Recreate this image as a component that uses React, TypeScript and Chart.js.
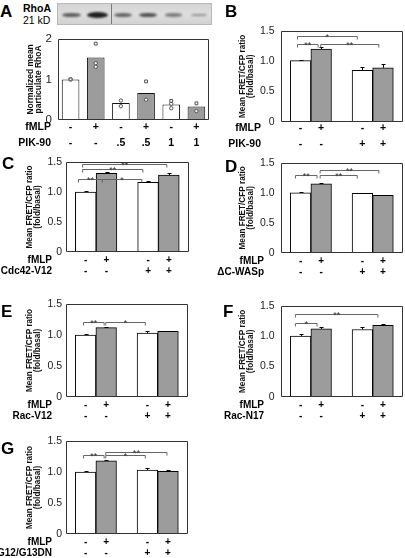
import React, { useEffect, useRef } from 'react';
import { Chart, registerables } from 'chart.js';

Chart.register(...registerables);

const FONT = "'Liberation Sans', Arial, Helvetica, sans-serif";
const GRAY = '#9c9c9c';

// ---------- Panel A data ----------
const aCategories = ['c1', 'c2', 'c3', 'c4', 'c5', 'c6'];
const aFmlp = ['-', '+', '-', '+', '-', '+'];
const aPik = ['-', '-', '.5', '.5', '1', '1'];
const aMeans = [1.0, 1.54, 0.42, 0.665, 0.38, 0.33];
const aSquares = [1.0, 1.88, null, 0.95, 0.47, 0.41];
const aCircles1 = [1.0, 1.4, 0.48, 0.5, 0.29, 0.22];
const aCircles2 = [null, 1.31, 0.34, null, 0.4, null];
const aBlotIntensity = [0.55, 1.0, 0.5, 0.65, 0.35, 0.2];
const aYMax = 2;

// ---------- Panels B-G data ----------
const xPositions = [1, 2, 4, 5];
const fmlpSigns = ['-', '+', '-', '+'];
const drugSigns = ['-', '-', '+', '+'];
const fretYMax = 1.5;

const bMeans = [1.01, 1.2, 0.85, 0.89];
const bErrors = [0.01, 0.04, 0.06, 0.06];
const bBrackets: [number, number, number, string][] = [
  [0.85, 3.75, 1.42, '*'],
  [0.85, 1.85, 1.29, '**'],
  [1.98, 4.8, 1.29, '**'],
];

const cMeans = [1.0, 1.31, 1.16, 1.28];
const cErrors = [0.02, 0.03, 0.02, 0.04];
const cBrackets: [number, number, number, string][] = [
  [0.85, 4.9, 1.47, '**'],
  [0.85, 3.75, 1.39, '**'],
  [0.65, 1.8, 1.21, '**'],
  [1.8, 3.7, 1.21, '*'],
];

const dMeans = [1.0, 1.15, 0.99, 0.96];
const dErrors = [0.01, 0.01, 0.01, 0.01];
const dBrackets: [number, number, number, string][] = [
  [0.75, 1.8, 1.29, '**'],
  [1.95, 3.75, 1.29, '**'],
  [1.95, 4.8, 1.38, '**'],
];

const eMeans = [1.0, 1.12, 1.03, 1.06];
const eErrors = [0.02, 0.015, 0.03, 0.01];
const eBrackets: [number, number, number, string][] = [
  [0.9, 1.9, 1.21, '**'],
  [1.98, 3.9, 1.21, '*'],
];

const fMeans = [1.0, 1.12, 1.11, 1.18];
const fErrors = [0.03, 0.03, 0.04, 0.02];
const fBrackets: [number, number, number, string][] = [
  [0.75, 1.8, 1.22, '*'],
  [0.75, 4.75, 1.365, '**'],
];

const gMeans = [1.0, 1.18, 1.03, 1.01];
const gErrors = [0.02, 0.015, 0.04, 0.02];
const gBrackets: [number, number, number, string][] = [
  [0.9, 1.9, 1.27, '**'],
  [1.98, 3.9, 1.27, '*'],
  [1.98, 4.95, 1.33, '**'],
];

const fretTitle = ['Mean FRET/CFP ratio', '(fold/basal)'];

// ---------- geometry ----------
interface Geo {
  canvasLeft: number;
  canvasRight: number;
  l: number;
  r: number;
  t: number;
  b: number;
  titleLines: string[];
  titleX: number[];
  titleSize: number;
  rowNames: string[];
  rowRight: number;
  rowLH: number;
  rowPad: number;
  rowFont: number;
  yTickPad: number;
  yTickFont: number;
}

const PAD_TOP = 10;
const X_H = 32;

function dims(g: Geo) {
  const x = g.canvasLeft;
  const y = g.t - PAD_TOP;
  const w = g.canvasRight - g.canvasLeft;
  const h = g.b - y + X_H;
  return { x, y, w, h };
}

function baseOptions(g: Geo, yMax: number, yStep: number, xScale: any) {
  const d = dims(g);
  const yW = g.l - g.canvasLeft;
  return {
    responsive: false,
    animation: false,
    devicePixelRatio: 1,
    layout: { padding: { top: PAD_TOP, right: d.w - (g.r - g.canvasLeft), bottom: 0, left: 0 } },
    plugins: {
      legend: { display: false },
      tooltip: { enabled: false },
      title: { display: false },
    },
    scales: {
      x: xScale,
      y: {
        type: 'linear',
        min: 0,
        max: yMax,
        ticks: {
          stepSize: yStep,
          font: { family: FONT, size: g.yTickFont, lineHeight: 1 },
          color: '#222',
          padding: g.yTickPad,
        },
        grid: { display: false, drawTicks: false, tickLength: 0 },
        border: { display: false },
        title: { display: false },
        afterFit: (s: any) => {
          s.width = yW;
        },
      },
    },
  };
}

function overlayPlugin(
  g: Geo,
  extra: { xs?: number[]; means?: number[]; errs?: number[]; brackets?: [number, number, number, string][] }
) {
  return {
    id: 'overlay' + g.t,
    afterDraw(chart: any) {
      const { ctx, chartArea: ca, scales } = chart;
      const xs = scales.x;
      const ys = scales.y;
      ctx.save();
      // frame
      ctx.strokeStyle = '#333';
      ctx.lineWidth = 1;
      const L = Math.round(ca.left) + 0.5;
      const R = Math.round(ca.right) - 0.5;
      const T = Math.round(ca.top) + 0.5;
      const B = Math.round(ca.bottom) - 0.5;
      ctx.beginPath();
      ctx.moveTo(L, T);
      ctx.lineTo(R, T);
      ctx.lineTo(R, B);
      ctx.lineTo(L, B);
      ctx.closePath();
      ctx.stroke();

      // error bars
      if (extra.xs && extra.means && extra.errs) {
        ctx.strokeStyle = '#000';
        for (let i = 0; i < extra.xs.length; i++) {
          const px = Math.round(xs.getPixelForValue(extra.xs[i])) + 0.5;
          const y0 = ys.getPixelForValue(extra.means[i]);
          const y1 = Math.round(ys.getPixelForValue(extra.means[i] + extra.errs[i])) + 0.5;
          ctx.beginPath();
          ctx.moveTo(px, y0);
          ctx.lineTo(px, y1);
          ctx.moveTo(px - 2, y1);
          ctx.lineTo(px + 2, y1);
          ctx.stroke();
        }
      }

      // significance brackets
      if (extra.brackets) {
        for (const [x1v, x2v, yv, label] of extra.brackets) {
          const x1 = xs.getPixelForValue(x1v);
          const x2 = xs.getPixelForValue(x2v);
          const y = Math.round(ys.getPixelForValue(yv)) + 0.5;
          ctx.strokeStyle = '#666';
          ctx.beginPath();
          ctx.moveTo(x1, y + 3);
          ctx.lineTo(x1, y);
          ctx.lineTo(x2, y);
          ctx.lineTo(x2, y + 3);
          ctx.stroke();
          ctx.fillStyle = '#333';
          ctx.font = `9px ${FONT}`;
          ctx.textAlign = 'center';
          ctx.textBaseline = 'alphabetic';
          ctx.fillText(label, (x1 + x2) / 2, y + 3);
        }
      }

      // y-axis title (rotated)
      ctx.fillStyle = '#111';
      ctx.font = `bold ${g.titleSize}px ${FONT}`;
      ctx.textAlign = 'center';
      ctx.textBaseline = 'middle';
      const cy = (ca.top + ca.bottom) / 2;
      g.titleLines.forEach((line, i) => {
        ctx.save();
        ctx.translate(g.titleX[i] - g.canvasLeft, cy);
        ctx.rotate(-Math.PI / 2);
        ctx.fillText(line, 0, 0);
        ctx.restore();
      });

      // row labels
      ctx.fillStyle = '#000';
      ctx.font = `bold ${g.rowFont}px ${FONT}`;
      ctx.textAlign = 'right';
      ctx.textBaseline = 'middle';
      const rx = g.rowRight - g.canvasLeft;
      g.rowNames.forEach((name, i) => {
        ctx.fillText(name, rx, ca.bottom + g.rowPad + g.rowLH / 2 + i * g.rowLH);
      });
      ctx.restore();
    },
  };
}

function xTickOptions(g: Geo, labelFor: (i: number) => string[]) {
  return {
    autoSkip: false,
    maxRotation: 0,
    minRotation: 0,
    padding: g.rowPad,
    color: '#000',
    font: { family: FONT, size: g.rowFont, weight: 'bold', lineHeight: g.rowLH + 'px' },
    callback: (_v: any, i: number) => labelFor(i),
  };
}

function buildFretConfig(g: Geo, means: number[], errs: number[], brackets: [number, number, number, string][]) {
  const xScale = {
    type: 'linear',
    position: 'bottom',
    min: 0.05,
    max: 5.97,
    offset: false,
    grid: { display: false, offset: false, drawTicks: false, tickLength: 0 },
    border: { display: false },
    afterBuildTicks: (s: any) => {
      s.ticks = xPositions.map((v) => ({ value: v }));
    },
    ticks: xTickOptions(g, (i) => [fmlpSigns[i], drugSigns[i]]),
    afterFit: (s: any) => {
      s.height = X_H;
    },
  };
  return {
    type: 'bar',
    data: {
      datasets: [
        {
          data: xPositions.map((x, i) => ({ x, y: means[i] })),
          backgroundColor: xPositions.map((_, i) => (i % 2 === 0 ? '#ffffff' : GRAY)),
          borderColor: '#000',
          borderWidth: 1,
          borderSkipped: false,
          barPercentage: 1,
          categoryPercentage: 1,
        },
      ],
    },
    options: baseOptions(g, fretYMax, 0.5, xScale),
    plugins: [overlayPlugin(g, { xs: xPositions, means, errs, brackets })],
  };
}

function buildAConfig(g: Geo) {
  const xScale = {
    type: 'category',
    position: 'bottom',
    grid: { display: false, drawTicks: false, tickLength: 0 },
    border: { display: false },
    ticks: xTickOptions(g, (i) => [aFmlp[i], aPik[i]]),
    afterFit: (s: any) => {
      s.height = X_H;
    },
  };
  const opts: any = baseOptions(g, aYMax, 1, xScale);
  const marker = (data: (number | null)[], style: string, radius: number) => ({
    type: 'line',
    data,
    showLine: false,
    pointStyle: style,
    pointRadius: radius,
    pointBorderColor: '#555',
    pointBackgroundColor: 'rgba(255,255,255,0.9)',
    pointBorderWidth: 1,
    order: 0,
  });
  return {
    type: 'bar',
    data: {
      labels: aCategories,
      datasets: [
        {
          type: 'bar',
          data: aMeans,
          backgroundColor: aMeans.map((_, i) => (i % 2 === 0 ? '#ffffff' : GRAY)),
          borderColor: '#111',
          borderWidth: 1,
          borderSkipped: false,
          barPercentage: 0.7,
          categoryPercentage: 1,
          order: 1,
        },
        marker(aSquares, 'rect', 2),
        marker(aCircles1, 'circle', 1.7),
        marker(aCircles2, 'circle', 1.7),
      ],
    },
    options: opts,
    plugins: [overlayPlugin(g, {})],
  };
}

function ChartCanvas({ g, build }: { g: Geo; build: (g: Geo) => any }) {
  const ref = useRef<HTMLCanvasElement | null>(null);
  const d = dims(g);
  useEffect(() => {
    if (!ref.current) return;
    const chart = new Chart(ref.current, build(g));
    return () => chart.destroy();
  }, []);
  return (
    <canvas
      ref={ref}
      width={d.w}
      height={d.h}
      style={{ position: 'absolute', left: d.x, top: d.y, width: d.w, height: d.h }}
    />
  );
}

const leftFret = {
  titleLines: fretTitle, titleX: [30, 37.5], titleSize: 8.2,
  rowRight: 52, rowLH: 11, rowPad: 2.5, rowFont: 10, yTickPad: 4, yTickFont: 10.5,
};
const rightFret = {
  titleLines: fretTitle, titleX: [243, 250.5], titleSize: 8.2,
  rowRight: 264, rowLH: 11, rowPad: 2.5, rowFont: 10, yTickPad: 6.5, yTickFont: 10.5,
};

const geoA: Geo = {
  canvasLeft: 0, canvasRight: 214, l: 58, r: 211, t: 37, b: 120,
  titleLines: ['Normalized mean', 'particulate RhoA'], titleX: [30.5, 38.5], titleSize: 8.5,
  rowNames: ['fMLP', 'PIK-90'], rowRight: 51, rowLH: 16, rowPad: -0.5, rowFont: 10.5,
  yTickPad: 6, yTickFont: 11.5,
};
const geoB: Geo = {
  ...rightFret, canvasLeft: 214, canvasRight: 405, l: 281, r: 403, t: 29, b: 122,
  rowNames: ['fMLP', 'PIK-90'], rowRight: 261, rowLH: 16, rowPad: -1.5, rowFont: 10.5,
};
const geoC: Geo = {
  ...leftFret, canvasLeft: 0, canvasRight: 200, l: 66, r: 189, t: 162, b: 252,
  rowNames: ['fMLP', 'Cdc42-V12'],
};
const geoD: Geo = {
  ...rightFret, canvasLeft: 200, canvasRight: 405, l: 281, r: 403, t: 161, b: 253,
  rowNames: ['fMLP', 'ΔC-WASp'],
};
const geoE: Geo = {
  ...leftFret, canvasLeft: 0, canvasRight: 200, l: 66, r: 188, t: 304, b: 397,
  rowNames: ['fMLP', 'Rac-V12'],
};
const geoF: Geo = {
  ...rightFret, canvasLeft: 200, canvasRight: 405, l: 281, r: 403, t: 304, b: 397,
  rowNames: ['fMLP', 'Rac-N17'],
};
const geoG: Geo = {
  ...leftFret, canvasLeft: 0, canvasRight: 200, l: 66, r: 188, t: 441, b: 534,
  rowNames: ['fMLP', 'G12/G13DN'],
};

const letters: [string, number, number][] = [
  ['A', 0, 5],
  ['B', 225, 5],
  ['C', 2, 157],
  ['D', 225, 160],
  ['E', 1, 305],
  ['F', 223, 305],
  ['G', 1, 442],
];

const blotLaneCenters = [70.5, 96, 121.5, 147, 172.5, 198];

function Blot() {
  return (
    <div
      style={{
        position: 'absolute',
        left: 57,
        top: 3,
        width: 155,
        height: 22,
        background: 'linear-gradient(180deg, #d4d4d4 0%, #dedede 50%, #d2d2d2 100%)',
        border: '1px solid #b8b8b8',
        boxSizing: 'border-box',
        overflow: 'hidden',
      }}
    >
      <div style={{ position: 'absolute', left: 53, top: 0, width: 1, height: 22, background: '#7a7a7a' }} />
      {blotLaneCenters.map((cx, i) => {
        const k = aBlotIntensity[i];
        const h = 2 + k * 4;
        const w = 15 + k * 6;
        return (
          <div
            key={i}
            style={{
              position: 'absolute',
              left: cx - 57 - w / 2,
              top: 11 - h / 2,
              width: w,
              height: h,
              borderRadius: '50%',
              background: `rgba(20,20,20,${0.25 + 0.7 * k})`,
              filter: 'blur(1.2px)',
            }}
          />
        );
      })}
    </div>
  );
}

export default function App() {
  return (
    <div
      style={{
        position: 'absolute',
        left: 0,
        top: 0,
        width: 405,
        height: 558,
        overflow: 'hidden',
        background: '#fff',
        fontFamily: FONT,
      }}
    >
      <Blot />
      <div style={{ position: 'absolute', left: 23, top: 2, fontSize: 10.5, lineHeight: '12px', fontWeight: 'bold' }}>RhoA</div>
      <div style={{ position: 'absolute', left: 23, top: 14, fontSize: 10.5, lineHeight: '12px' }}>21 kD</div>
      <ChartCanvas g={geoA} build={buildAConfig} />
      <ChartCanvas g={geoB} build={(g) => buildFretConfig(g, bMeans, bErrors, bBrackets)} />
      <ChartCanvas g={geoC} build={(g) => buildFretConfig(g, cMeans, cErrors, cBrackets)} />
      <ChartCanvas g={geoD} build={(g) => buildFretConfig(g, dMeans, dErrors, dBrackets)} />
      <ChartCanvas g={geoE} build={(g) => buildFretConfig(g, eMeans, eErrors, eBrackets)} />
      <ChartCanvas g={geoF} build={(g) => buildFretConfig(g, fMeans, fErrors, fBrackets)} />
      <ChartCanvas g={geoG} build={(g) => buildFretConfig(g, gMeans, gErrors, gBrackets)} />
      {letters.map(([ch, x, y]) => (
        <div
          key={ch}
          style={{
            position: 'absolute',
            left: x,
            top: y - 2.2,
            fontSize: 17,
            lineHeight: '17px',
            fontWeight: 'bold',
            color: '#000',
          }}
        >
          {ch}
        </div>
      ))}
    </div>
  );
}
